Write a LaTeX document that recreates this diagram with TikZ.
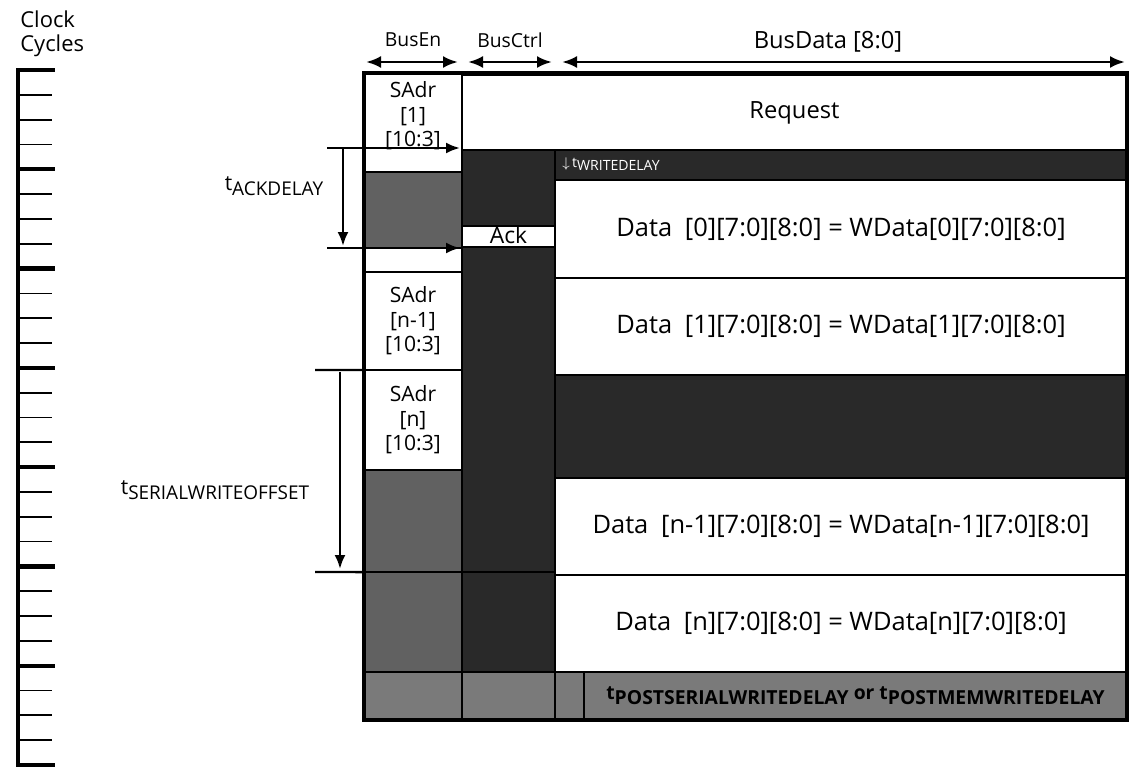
\documentclass[tikz,border=0pt]{standalone}
\usepackage{fontspec}
\setmainfont{Open Sans}
\usetikzlibrary{arrows.meta,positioning,calc}
\newcommand{\tlab}[2][10.8]{t\raisebox{-0.45ex}{\fontsize{#1}{#1}\selectfont #2}}

\begin{document}
\begin{tikzpicture}[x=0.02cm, y=-0.02cm,
  cell/.style={draw, line width=1.3pt, inner sep=0pt, outer sep=0pt, align=center, font=\fontsize{12}{14}\selectfont},
  blank/.style={cell, fill=white},
  shade/.style={cell, fill=black!62},
  dark/.style={cell, fill=black!84},
  band/.style={cell, fill=black!52},
  colEn/.style={minimum width=1.96cm},
  colCtrl/.style={minimum width=1.86cm},
  colData/.style={minimum width=11.44cm, font=\fontsize{14.5}{16}\selectfont},
  txt/.style={align=center, inner sep=0pt, font=\fontsize{12}{14}\selectfont},
  dim/.style={line width=1.4pt},
  dimarrow/.style={dim, -{Latex[length=2.8mm, width=2.2mm]}},
  busarrow/.style={line width=1.6pt, {Latex[length=3mm, width=2.4mm]}-{Latex[length=3mm, width=2.4mm]}}
]
\useasboundingbox (0,0) rectangle (1132,768);

% clock ruler
\node[txt, anchor=north west, align=left, font=\fontsize{12.5}{14}\selectfont] (clk) at (20,10) {Clock\\Cycles};
\draw[line width=2.2pt] (18,68) -- (18,767);
\foreach \k in {0,...,28} \draw[line width=1pt] (18,{70+24.82*\k}) -- (52,{70+24.82*\k});
\foreach \k in {0,4,...,28} \draw[line width=2.4pt] (18,{70+24.82*\k}) -- (55,{70+24.82*\k});

% bus headers
\node[txt, font=\fontsize{11}{13}\selectfont] (hEn) at (413,40) {BusEn};
\node[txt, font=\fontsize{11}{13}\selectfont] (hCtrl) at (510,40) {BusCtrl};
\node[txt, font=\fontsize{13.5}{15}\selectfont] (hData) at (828,42) {BusData [8:0]};
\coordinate (enL) at (366,62);
\coordinate (enR) at (458,62);
\coordinate (ctrlL) at (468,62);
\coordinate (ctrlR) at (552,62);
\coordinate (dataL) at (562,62);
\coordinate (dataR) at (1125,62);
\draw[busarrow] (enL) -- (enR);
\draw[busarrow] (ctrlL) -- (ctrlR);
\draw[busarrow] (dataL) -- (dataR);

% request row
\node[blank, minimum width=13.3cm, minimum height=1.54cm, font=\fontsize{13.5}{15}\selectfont] (req) at (794.5,113) {Request};

% BusEn column
\node[blank, colEn, minimum height=1.98cm] (sadrOne) at (413,122.5) {};
\node[txt] (sadrOneTxt) at (413,116) {SAdr\\{}[1]\\{}[10:3]};
\node[shade, colEn, minimum height=1.52cm] (enDarkA) at (413,210) {};
\node[blank, colEn, minimum height=0.48cm] (enGap) at (413,260) {};
\node[blank, colEn, minimum height=1.96cm] (sadrPrev) at (413,321) {SAdr\\{}[n-1]\\{}[10:3]};
\node[blank, colEn, minimum height=2.0cm] (sadrN) at (413,420) {SAdr\\{}[n]\\{}[10:3]};
\node[shade, colEn, minimum height=2.04cm] (enDarkB) at (413,521) {};
\node[shade, colEn, minimum height=2.0cm] (enDarkC) at (413,622) {};
\node[band, colEn, minimum height=0.96cm] (enBand) at (413,696) {};

% BusCtrl column
\node[dark, colCtrl, minimum height=1.52cm] (ctrlDarkA) at (508.5,188) {};
\node[blank, colCtrl, minimum height=0.42cm, text height=8.5pt, text depth=0pt, font=\fontsize{13}{14}\selectfont] (ack) at (508.5,236.5) {Ack};
\node[dark, colCtrl, minimum height=6.5cm] (ctrlDarkB) at (508.5,409.5) {};
\node[dark, colCtrl, minimum height=2.0cm] (ctrlDarkC) at (508.5,622) {};
\node[band, colCtrl, minimum height=0.96cm] (ctrlBand) at (508.5,696) {};

% BusData column
\node[dark, colData, minimum height=0.6cm] (wrDelay) at (841,165) {};
\node[txt, anchor=west, text=white, font=\fontsize{8}{9}\selectfont] (wrDelayTxt) at (562,164) {$\downarrow$\,\tlab[8]{WRITEDELAY}};
\node[blank, colData, minimum height=1.96cm] (dataZero) at (841,229) {Data\enspace[0][7:0][8:0] = WData[0][7:0][8:0]};
\node[blank, colData, minimum height=1.94cm] (dataOne) at (841,326.5) {Data\enspace[1][7:0][8:0] = WData[1][7:0][8:0]};
\node[dark, colData, minimum height=2.06cm] (dataGap) at (841,426.5) {};
\node[blank, colData, minimum height=1.94cm] (dataPrev) at (841,526.5) {Data\enspace[n-1][7:0][8:0] = WData[n-1][7:0][8:0]};
\node[blank, colData, minimum height=1.94cm] (dataN) at (841,623.5) {Data\enspace[n][7:0][8:0] = WData[n][7:0][8:0]};
\node[band, minimum width=0.58cm, minimum height=0.96cm] (dataBandA) at (569.5,696) {};
\node[band, minimum width=10.86cm, minimum height=0.96cm, font=\fontsize{11}{13}\selectfont\bfseries] (dataBandB) at (855.5,696) {\tlab[11]{POSTSERIALWRITEDELAY} or \tlab[11]{POSTMEMWRITEDELAY}};

\draw[line width=2.2pt] (sadrOne.north west) rectangle (dataBandB.south east);

% ack delay
\coordinate (ackTopL) at (327,148);
\coordinate (ackTopR) at (460,148);
\coordinate (ackBotL) at (327,248);
\coordinate (ackBotR) at (460,248);
\coordinate (ackUp) at (343,148);
\coordinate (ackDown) at (343,246);
\draw[dimarrow] (ackTopL) -- (ackTopR);
\draw[dimarrow] (ackBotL) -- (ackBotR);
\draw[dimarrow] (ackUp) -- (ackDown);
\node[txt] (ackLbl) at (274,186) {\tlab{ACKDELAY}};

% serial write offset
\coordinate (serTopL) at (315,370);
\coordinate (serBotL) at (315,572);
\coordinate (serUp) at (340,372);
\coordinate (serDown) at (340,569);
\draw[dim] (serTopL) -- (sadrN.north west);
\draw[dim] (serBotL) -- (enDarkC.north west);
\draw[dimarrow] (serUp) -- (serDown);
\node[txt] (serLbl) at (215,490) {\tlab{SERIALWRITEOFFSET}};

\end{tikzpicture}
\end{document}
